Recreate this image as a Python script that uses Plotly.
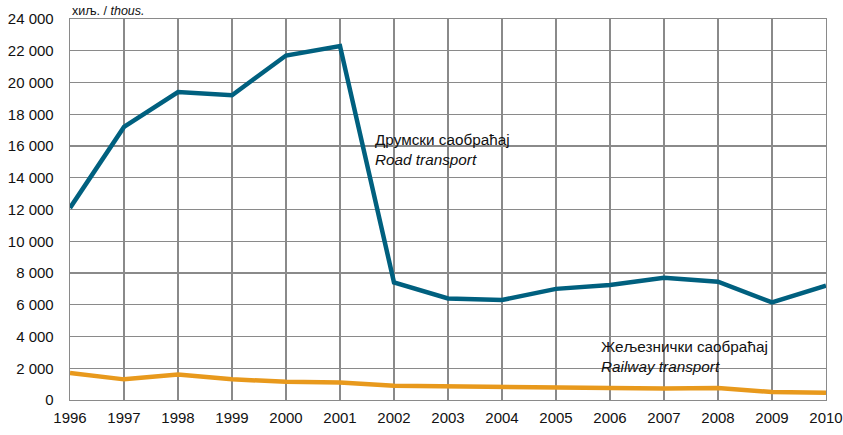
import plotly.graph_objects as go

years = list(range(1996, 2011))
road = [12100, 17200, 19400, 19200, 21700, 22300, 7400, 6400, 6300, 7000, 7250, 7700, 7450, 6150, 7200]
rail = [1700, 1300, 1600, 1300, 1150, 1100, 900, 850, 800, 800, 750, 720, 750, 500, 450]
y_ticks = list(range(0, 24001, 2000))
y_labels = ["0" if v == 0 else f"{v//1000} {v%1000:03d}" for v in y_ticks]

FONT = "Liberation Sans, Arial, sans-serif"

fig = go.Figure()
fig.add_trace(go.Scatter(x=years, y=rail, mode="lines",
                         line=dict(color="#E8991C", width=4.5), hoverinfo="skip", cliponaxis=False))
fig.add_trace(go.Scatter(x=years, y=road, mode="lines",
                         line=dict(color="#00607F", width=4.5), hoverinfo="skip", cliponaxis=False))

fig.add_annotation(x=2001.62, y=17100, xref="x", yref="y", xanchor="left", yanchor="top",
                   text="Друмски саобраћај<br><i>Road transport</i>", showarrow=False, align="left",
                   font=dict(family=FONT, size=15.3, color="#111"))
fig.add_annotation(x=2005.8, y=4050, xref="x", yref="y", xanchor="left", yanchor="top",
                   text="Жељезнички саобраћај<br><i>Railway transport</i>", showarrow=False, align="left",
                   font=dict(family=FONT, size=15.3, color="#111"))
fig.add_annotation(x=0.0, y=1.0, xref="paper", yref="paper", xanchor="left", yanchor="middle",
                   yshift=8, showarrow=False, text="хиљ. / <i>thous.</i>",
                   font=dict(family=FONT, size=12.5, color="#111"))

fig.update_layout(
    width=843, height=435,
    margin=dict(l=70, r=17, t=19, b=35),
    paper_bgcolor="white", plot_bgcolor="white",
    showlegend=False,
    font=dict(family=FONT, size=15, color="#111"),
    xaxis=dict(range=[1996, 2010.0001], tickvals=years, ticktext=[str(y) for y in years],
               showgrid=True, gridcolor="#8a8a8a", gridwidth=1.3,
               showline=True, linecolor="#8a8a8a", linewidth=1.3, mirror=True,
               zeroline=False, ticks="", tickfont=dict(size=15), automargin=False,
               ticklabelstandoff=4),
    yaxis=dict(range=[0, 24000], tickvals=y_ticks, ticktext=y_labels,
               showgrid=True, gridcolor="#8a8a8a", gridwidth=1.3,
               showline=True, linecolor="#8a8a8a", linewidth=1.3, mirror=True,
               zeroline=False, ticks="", tickfont=dict(size=15), automargin=False,
               ticklabelstandoff=12),
)

fig.write_html("out.html", config={"displayModeBar": False, "staticPlot": True},
               post_script="document.body.style.margin='0';document.body.style.overflow='hidden';")
